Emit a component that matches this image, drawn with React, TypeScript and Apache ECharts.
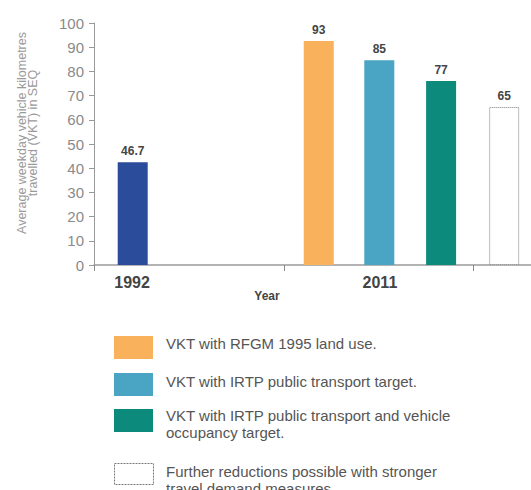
import React, { useEffect, useRef } from "react";
import * as echarts from "echarts";

// ---- data ----
const barNames = [
  "1992",
  "VKT with RFGM 1995 land use.",
  "VKT with IRTP public transport target.",
  "VKT with IRTP public transport and vehicle\noccupancy target.",
  "Further reductions possible with stronger\ntravel demand measures.",
];
const barPositions = [0.62, 3.6, 4.57, 5.56, 6.57]; // slot positions along the year axis
const barValues = [42.5, 92.6, 84.6, 76, 65.3];
const barLabels = ["46.7", "93", "85", "77", "65"];
const yearLabels = ["1992", "2011"];
const yearLabelPositions = [0.61, 4.58];
const yearTickPositions = [0, 3.04, 6.07];
const yTicks = [0, 10, 20, 30, 40, 50, 60, 70, 80, 90, 100];
const yAxisTitleLines = ["Average weekday vehicle kilometres", "travelled (VKT) in SEQ"];
const xAxisTitle = "Year";

const colors = ["#2b4c9b", "#f9b25b", "#4aa5c5", "#0c8a7b", "#ffffff"];
const FONT = "'Liberation Sans', Arial, Helvetica, sans-serif";

function measure(text: string, font: string): number {
  const c = document.createElement("canvas").getContext("2d");
  if (!c) return text.length * 6;
  c.font = font;
  return c.measureText(text).width;
}

export default function App() {
  const ref = useRef<HTMLDivElement>(null);

  useEffect(() => {
    if (!ref.current) return;
    const chart = echarts.init(ref.current, null, { renderer: "svg" });

    const data = barValues.map((v, i) => {
      const dashed = i === 4;
      return {
        value: [barPositions[i], v],
        name: barNames[i],
        itemStyle: dashed
          ? { color: "#ffffff", borderColor: "#7a7a7a", borderWidth: 1, borderType: "dotted" as const }
          : { color: colors[i] },
      };
    });

    // legend drawn with graphic rects + texts
    const legendTops = [336, 373, 409, 463];
    const legendTextY = [343, 381, 415, 471];
    const legendItems: any[] = [];
    for (let k = 0; k < 4; k++) {
      const i = k + 1;
      const dashed = i === 4;
      legendItems.push({
        type: "rect",
        left: 114,
        top: legendTops[k],
        shape: { width: 39, height: dashed ? 21 : 23 },
        style: dashed
          ? { fill: "#ffffff", stroke: "#7a7a7a", lineWidth: 1, lineDash: [2, 1] }
          : { fill: colors[i] },
      });
      legendItems.push({
        type: "text",
        x: 166,
        y: legendTextY[k] - 8.5,
        style: {
          text: barNames[i],
          fill: "#555555",
          fontSize: 15,
          fontFamily: FONT,
          lineHeight: 17,
          textVerticalAlign: "top",
          textAlign: "left",
        },
      });
    }

    // rotated y-axis title: each line centred on y = 133
    const titleFontSize = 12.5;
    const titleCenterY = 133;
    const yTitle = yAxisTitleLines.map((line, i) => {
      const w = measure(line, `${titleFontSize}px ${FONT}`);
      return {
        type: "text",
        x: 21.5 + i * 11.5,
        y: titleCenterY + w / 2,
        rotation: Math.PI / 2,
        style: {
          text: line,
          fill: "#9a9a9a",
          fontSize: titleFontSize,
          fontFamily: FONT,
          textAlign: "left",
          textVerticalAlign: "middle",
        },
      };
    });

    chart.setOption({
      animation: false,
      backgroundColor: "#ffffff",
      grid: { left: 94, right: 0, top: 23, bottom: 225, containLabel: false },
      xAxis: {
        type: "value",
        min: 0,
        max: 7,
        axisLine: { show: true, lineStyle: { color: "#9a9a9a", width: 1.5 } },
        axisTick: {
          show: true,
          customValues: yearTickPositions,
          length: 6,
          lineStyle: { color: "#8a8a8a", width: 1 },
        },
        axisLabel: {
          show: true,
          customValues: yearLabelPositions,
          formatter: (val: number) => {
            let best = 0;
            for (let i = 1; i < yearLabelPositions.length; i++) {
              if (Math.abs(yearLabelPositions[i] - val) < Math.abs(yearLabelPositions[best] - val)) best = i;
            }
            return yearLabels[best];
          },
          fontSize: 16,
          fontWeight: "bold",
          color: "#444444",
          fontFamily: FONT,
          margin: 9,
        },
        splitLine: { show: false },
      },
      yAxis: {
        type: "value",
        min: 0,
        max: 100,
        interval: 10,
        axisLine: { show: true, lineStyle: { color: "#9a9a9a", width: 1 } },
        axisTick: { show: true, inside: false, length: 5, lineStyle: { color: "#9a9a9a" } },
        axisLabel: {
          formatter: (v: number) => (yTicks.includes(v) ? String(v) : ""),
          fontSize: 15,
          color: "#8a8a8a",
          fontFamily: FONT,
          margin: 10,
        },
        splitLine: { show: false },
      },
      series: [
        {
          type: "bar",
          barWidth: 30,
          data,
          label: {
            show: true,
            position: "top",
            distance: 5,
            formatter: (p: any) => barLabels[p.dataIndex],
            fontSize: 12,
            fontWeight: "bold",
            color: "#444444",
            fontFamily: FONT,
          },
        },
      ],
      graphic: [
        ...yTitle,
        {
          type: "text",
          x: 267,
          y: 296,
          style: {
            text: xAxisTitle,
            fill: "#444444",
            fontSize: 12,
            fontWeight: "bold",
            fontFamily: FONT,
            textAlign: "center",
            textVerticalAlign: "middle",
          },
        },
        ...legendItems,
      ],
    });

    return () => chart.dispose();
  }, []);

  return (
    <div
      ref={ref}
      style={{ position: "fixed", left: 0, top: 0, width: 531, height: 490 }}
    />
  );
}
